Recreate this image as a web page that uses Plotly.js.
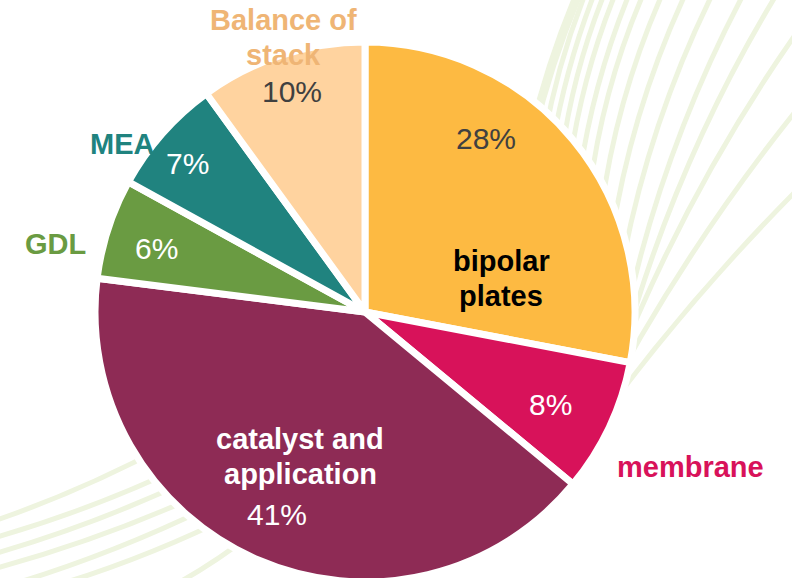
<!DOCTYPE html>
<html>
<head>
<meta charset="utf-8">
<script src="https://cdn.plot.ly/plotly-3.0.1.min.js"></script>
<style>
html,body{margin:0;padding:0;overflow:hidden;background:#fff;}
#chart{position:absolute;left:0;top:0;width:792px;height:590px;}
</style>
</head>
<body>
<div id="chart"></div>
<script>
// ---- data ----
var labels = ["bipolar plates", "membrane", "catalyst and application", "GDL", "MEA", "Balance of stack"];
var labelLines = [["bipolar", "plates"], ["membrane"], ["catalyst and", "application"], ["GDL"], ["MEA"], ["Balance of", "stack"]];
var values = [28, 8, 41, 6, 7, 10];

// ---- styles / placement ----
var colors = ["#FDBA42", "#D8125A", "#8E2B55", "#6A9B42", "#20837F", "#FFD39F"];
var labelColors = ["#000000", "#D8125A", "#FFFFFF", "#6A9B42", "#20837F", "#EFB575"];
var pctColors = ["#404040", "#FFFFFF", "#FFFFFF", "#FFFFFF", "#FFFFFF", "#404040"];
// screen position (x, first line centre y) of labels, line step 35px
var labelPos = [[501, 261], [690, 467], [300, 439], [55, 244], [122, 144], [283, 20]];
var pctPos = [[486, 139], [550, 405], [277, 514], [156, 248], [187, 164], [292, 92]];
var lineStep = 35;

var W = 792, H = 590;
function px(x){ return x / W; }
function py(y){ return (H - y) / H; }
var FONT = 'Arial, Liberation Sans, sans-serif';

var annotations = [];
for (var i = 0; i < labels.length; i++) {
  for (var j = 0; j < labelLines[i].length; j++) {
    annotations.push({
      xref: 'paper', yref: 'paper', x: px(labelPos[i][0]), y: py(labelPos[i][1] + j * lineStep),
      xanchor: 'center', yanchor: 'middle', showarrow: false,
      text: '<b>' + labelLines[i][j] + '</b>',
      font: {family: FONT, size: 29, color: labelColors[i]}
    });
  }
  annotations.push({
    xref: 'paper', yref: 'paper', x: px(pctPos[i][0]), y: py(pctPos[i][1]),
    xanchor: 'center', yanchor: 'middle', showarrow: false,
    text: values[i] + '%',
    font: {family: FONT, size: 30, color: pctColors[i]}
  });
}

// decorative faint swoosh lines behind the pie: [x inner, y inner, x outer, y outer, bend, width]
var deco = [
  [545, 95, 577, -3, 0.04, 9],
  [555, 100, 584, -3, 0.05, 5],
  [563, 107, 593, -3, 0.05, 5],
  [572, 115, 603, -3, 0.06, 5],
  [580, 125, 614, -3, 0.06, 5],
  [590, 137, 628, -3, 0.06, 5],
  [600, 153, 642, -3, 0.07, 5],
  [612, 172, 661, -3, 0.07, 5],
  [623, 200, 684, -3, 0.07, 5],
  [633, 236, 711, -3, 0.07, 5],
  [637, 290, 742, -3, 0.07, 5],
  [637, 320, 775, -3, 0.07, 5],
  [630, 345, 795, 35, 0.06, 5],
  [615, 390, 795, 112, 0.05, 5],
  [607, 415, 795, 192, 0.04, 5],
  [133, 460, -3, 520, -0.04, 5],
  [147, 480, -3, 537, -0.04, 5],
  [157, 492, -3, 553, -0.04, 5],
  [170, 505, -3, 568, -0.04, 5],
  [182, 517, 20, 582, -0.04, 5],
  [200, 528, 67, 582, -0.04, 5],
  [227, 550, 180, 582, -0.04, 5]
];
var shapes = [];
deco.forEach(function (d) {
  var dx = d[2] - d[0], dy = d[3] - d[1];
  var len = Math.sqrt(dx * dx + dy * dy);
  var sx = d[0] - dx / len * 40, sy = d[1] - dy / len * 40;
  var mx = (sx + d[2]) / 2, my = (sy + d[3]) / 2;
  var L = len + 40;
  // perpendicular (pointing to upper-left for positive bend)
  var nx = dy / len, ny = -dx / len;
  if (nx > 0) { nx = -nx; ny = -ny; }
  var cx = mx + nx * L * d[4], cy = my + ny * L * d[4];
  var path = 'M ' + px(sx) + ',' + py(sy) + ' Q ' + px(cx) + ',' + py(cy) + ' ' + px(d[2]) + ',' + py(d[3]);
  shapes.push({type: 'path', xref: 'paper', yref: 'paper', path: path, layer: 'below',
    line: {color: '#EEF4DF', width: d[5]}});
});

var trace = {
  type: 'pie',
  labels: labels,
  values: values,
  sort: false,
  direction: 'clockwise',
  rotation: 0,
  textinfo: 'none',
  hoverinfo: 'label+percent',
  marker: {colors: colors, line: {color: '#FFFFFF', width: 7}},
  domain: {x: [95 / W, 635 / W], y: [8 / H, 548 / H]}
};

var layout = {
  width: W, height: H,
  margin: {l: 0, r: 0, t: 0, b: 0},
  paper_bgcolor: '#FFFFFF',
  showlegend: false,
  annotations: annotations,
  shapes: shapes
};

Plotly.newPlot('chart', [trace], layout, {displayModeBar: false, staticPlot: true});
</script>
</body>
</html>
